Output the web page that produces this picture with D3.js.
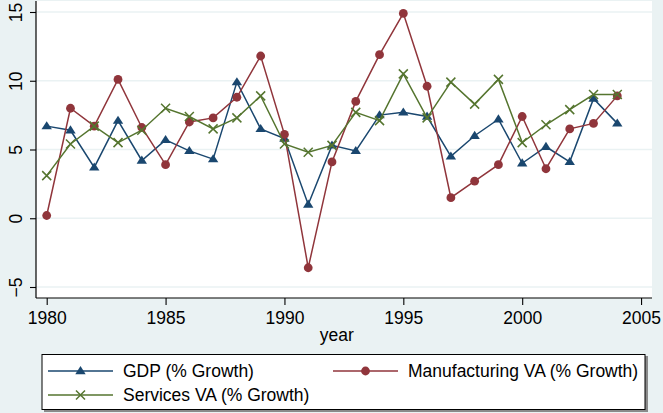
<!DOCTYPE html>
<html>
<head>
<meta charset="utf-8">
<script src="https://cdn.jsdelivr.net/npm/d3@7"></script>
<style>
  body { margin: 0; background: #eaf2f3; }
  svg { display: block; font-family: "Liberation Sans", Arial, sans-serif; }
</style>
</head>
<body>
<svg id="chart" width="663" height="413"></svg>
<script>
var years = d3.range(1980, 2005);

var gdp = [6.7, 6.4, 3.7, 7.1, 4.2, 5.7, 4.9, 4.3, 9.9, 6.5, 5.8, 1.0, 5.3, 4.9, 7.5,
           7.7, 7.4, 4.5, 6.0, 7.2, 4.0, 5.2, 4.1, 8.7, 6.9];
var manuf = [0.2, 8.0, 6.7, 10.1, 6.6, 3.9, 7.0, 7.3, 8.8, 11.8, 6.1, -3.6, 4.1, 8.5, 11.9,
             14.9, 9.6, 1.5, 2.7, 3.9, 7.4, 3.6, 6.5, 6.9, 8.9];
var services = [3.1, 5.4, 6.7, 5.5, 6.4, 8.0, 7.4, 6.5, 7.3, 8.9, 5.4, 4.8, 5.3, 7.7, 7.1,
                10.5, 7.3, 9.9, 8.3, 10.1, 5.5, 6.8, 7.9, 9.0, 9.0];

var xTicks = [1980, 1985, 1990, 1995, 2000, 2005];
var yTicks = [-5, 0, 5, 10, 15];
var seriesNames = ["GDP (% Growth)", "Manufacturing VA (% Growth)", "Services VA (% Growth)"];

var svg = d3.select("#chart");
// plot region edges (note: "top" is a reserved window prop, so use pTop etc.)
var pLeft = 36, pRight = 652, pTop = 1, pBottom = 298;
var fontSize = "17.5px";

var x = d3.scaleLinear().domain([1979.55, 2005.46]).range([pLeft, pRight]);
var y = d3.scaleLinear().domain([-5.8, 15.8]).range([pBottom, pTop]);

// background and plot region
svg.append("rect").attr("width", 663).attr("height", 413).attr("fill", "#eaf2f3");
svg.append("rect")
   .attr("x", pLeft).attr("y", pTop)
   .attr("width", pRight - pLeft).attr("height", pBottom - pTop)
   .attr("fill", "#ffffff");

// gridlines
svg.append("g").selectAll("line")
   .data(yTicks).enter().append("line")
   .attr("x1", pLeft).attr("x2", pRight)
   .attr("y1", function(d) { return y(d); })
   .attr("y2", function(d) { return y(d); })
   .attr("stroke", "#eaf2f3")
   .attr("stroke-width", 1.6);

// axes
var xAxis = svg.append("g")
   .attr("transform", "translate(0," + pBottom + ")")
   .call(d3.axisBottom(x).tickValues(xTicks).tickFormat(d3.format("d")).tickSize(7).tickPadding(7));
var yAxis = svg.append("g")
   .attr("transform", "translate(" + pLeft + ",0)")
   .call(d3.axisLeft(y).tickValues(yTicks).tickSize(6).tickPadding(0));

[xAxis, yAxis].forEach(function(ax) {
  ax.select(".domain").attr("stroke", "#000").attr("stroke-width", 1.2);
  ax.selectAll(".tick line").attr("stroke", "#000").attr("stroke-width", 1.1);
  ax.selectAll("text").attr("fill", "#000").style("font-size", fontSize)
    .style("font-family", "'Liberation Sans', Arial, sans-serif");
});
yAxis.select(".domain").attr("d", "M0," + pTop + "V" + pBottom);
xAxis.select(".domain").attr("d", "M" + pLeft + ",0H" + pRight);

yAxis.selectAll(".tick text")
   .attr("x", 0).attr("dy", null)
   .attr("transform", "translate(-20,0) rotate(-90)")
   .attr("text-anchor", "middle")
   .attr("dominant-baseline", "central");

svg.append("text")
   .attr("x", x(1992.2)).attr("y", 341)
   .attr("text-anchor", "middle")
   .style("font-size", fontSize)
   .text("year");

// series
var colors = ["#1a476f", "#90353b", "#55752f"];
var allSeries = [gdp, manuf, services];

var line = d3.line()
   .x(function(d, i) { return x(years[i]); })
   .y(function(d) { return y(d); });

function drawMarker(g, kind, color) {
  if (kind === 0) {
    g.append("path").attr("d", "M0,-5L5.2,3.2L-5.2,3.2Z").attr("fill", color);
  } else if (kind === 1) {
    g.append("circle").attr("r", 4.4).attr("fill", color);
  } else {
    g.append("path").attr("d", "M-4.5,-4.5L4.5,4.5M-4.5,4.5L4.5,-4.5")
     .attr("stroke", color).attr("stroke-width", 1.5).attr("fill", "none");
  }
}

allSeries.forEach(function(vals, k) {
  var grp = svg.append("g");
  grp.append("path")
     .datum(vals)
     .attr("d", line)
     .attr("fill", "none")
     .attr("stroke", colors[k])
     .attr("stroke-width", 1.5);
  grp.selectAll("g.mark")
     .data(vals).enter().append("g")
     .attr("class", "mark")
     .attr("transform", function(d, i) { return "translate(" + x(years[i]) + "," + y(d) + ")"; })
     .each(function() { drawMarker(d3.select(this), k, colors[k]); });
});

// legend
var legend = svg.append("g");
legend.append("rect")
   .attr("x", 44).attr("y", 356).attr("width", 604).attr("height", 56)
   .attr("fill", "#8a8a8a");
legend.append("rect")
   .attr("x", 42).attr("y", 354.5).attr("width", 603).attr("height", 55)
   .attr("fill", "#fff").attr("stroke", "#000").attr("stroke-width", 1);

var legendPos = [[48, 371], [333, 371], [48, 395]];
seriesNames.forEach(function(name, k) {
  var p = legendPos[k];
  var g = legend.append("g").attr("transform", "translate(" + p[0] + "," + p[1] + ")");
  g.append("line").attr("x1", 0).attr("x2", 65).attr("y1", 0).attr("y2", 0)
   .attr("stroke", colors[k]).attr("stroke-width", 1.5);
  var m = g.append("g").attr("transform", "translate(32.5,0)");
  drawMarker(m, k, colors[k]);
  g.append("text").attr("x", 75).attr("y", 0)
   .attr("dominant-baseline", "central")
   .style("font-size", fontSize)
   .text(name);
});
</script>
</body>
</html>
